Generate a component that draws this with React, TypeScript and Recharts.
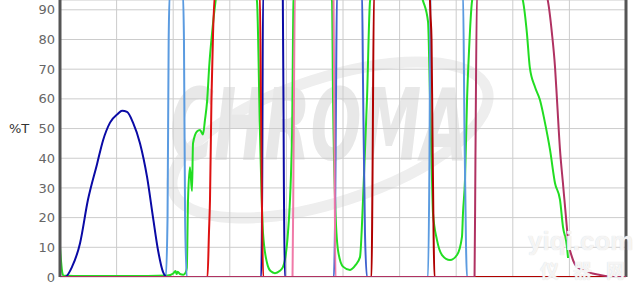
import React from "react";
import { LineChart, Line, XAxis, YAxis, CartesianGrid, ReferenceLine } from "recharts";

// wavelength (nm) / transmission (%T) pairs
const green: [number, number][] = [
  [300, 10], [301, 5], [302, 1.5], [303, 0.5], [320, 0.3], [360, 0.3], [395, 0.5], [400, 1.2],
  [402, 2], [403, 1], [404, 1.8], [406, 1], [409, 0.8], [411, 1.5], [412, 3], [413.1, 26],
  [414.8, 37], [416.6, 29], [417.5, 45], [421, 49], [423.7, 49.5], [426.3, 48], [428.1, 53],
  [429.9, 59], [432, 72], [434.3, 82], [436.5, 90], [439, 96], [472, 96], [474, 93],
  [476.7, 48], [479.3, 15], [482.9, 4.7], [486, 2], [489.9, 1.3], [494, 2], [497, 3.4],
  [501.4, 15], [505, 48], [506.3, 93], [508, 96], [538, 96], [540.3, 93], [541.2, 60],
  [543, 26], [545.6, 9], [550, 3.5], [556.2, 2.4], [561, 4], [565, 6.7], [567.7, 26],
  [571.2, 60], [573.9, 93], [576, 96], [618, 96], [620.7, 93], [625.1, 86], [626.9, 60],
  [628.6, 33], [629.5, 21.5], [633, 12.5], [637.5, 7.4], [644.5, 5.7], [650.7, 7.4],
  [655.1, 13.5], [656, 21.5], [657.8, 33], [659.6, 60], [661.3, 76], [664, 93], [666, 96],
  [706, 96], [709, 93], [712.5, 82], [715, 70.7], [719.6, 64], [724, 59.6], [728.4, 52],
  [732.9, 42.8], [737.3, 31.6], [741.7, 26], [744.3, 17], [747.9, 10], [748.8, 6.4],
];

const navy: [number, number][] = [
  [300, 0], [304.4, 0], [310.6, 3.4], [317.7, 11.4], [324.7, 26], [332.7, 38], [338, 46],
  [344.2, 52], [351.2, 55], [354.8, 56], [359.2, 55.6], [364.5, 52], [370.7, 45],
  [376.9, 33.7], [382.2, 20], [386.6, 9], [391, 1.7], [394.5, 0], [477.8, 0], [478.6, 30],
  [479.4, 96], [496.8, 96], [497.8, 30], [498.6, 0], [800, 0],
];

const lightBlue: [number, number][] = [
  [300, 0], [393.5, 0], [395, 20], [396, 80], [397, 96], [408.5, 96], [409.5, 80],
  [410.5, 20], [412, 0], [625.1, 0], [626.4, 40], [627.3, 96], [656, 96], [657.3, 50],
  [658.7, 10], [659.5, 0], [800, 0],
];

const royal: [number, number][] = [
  [300, 0], [542, 0], [543, 20], [543.8, 60], [544.7, 96], [566.8, 96], [567.7, 65],
  [569.4, 15], [571.2, 0], [800, 0],
];

const pink: [number, number][] = [
  [300, 0], [505.4, 0], [506.3, 40], [507.6, 96], [541.6, 96], [542.5, 40], [543.4, 0], [800, 0],
];

const red1: [number, number][] = [
  [300, 0], [430.3, 0], [431.6, 15], [432.5, 26], [433.8, 60], [435.2, 82], [436.9, 96],
  [476.5, 96], [477.5, 60], [478.5, 20], [479.5, 0], [800, 0],
];

const red2: [number, number][] = [
  [300, 0], [575.2, 0], [576, 30], [577.4, 96], [626.4, 96], [627.3, 88], [628.2, 80],
  [629, 50], [630, 15], [630.8, 0], [800, 0],
];

const maroon: [number, number][] = [
  [300, 0], [666.2, 0], [667, 40], [668.4, 96], [729, 96], [731, 93], [734.6, 82],
  [737.3, 70.7], [739, 60], [741.7, 42.8], [744.3, 31.6], [747, 20], [748.8, 12.5],
  [752.3, 6.7], [756.7, 3.4], [765.6, 1.7], [777, 0.7], [792, 0], [800, 0],
];

const xTicks = [300, 350, 400, 450, 500, 550, 600, 650, 700, 750, 800];
const yTicks = [0, 10, 20, 30, 40, 50, 60, 70, 80, 90];

const series = [
  { name: "green", pts: green, color: "#22dd22" },
  { name: "lightBlue", pts: lightBlue, color: "#5b9be0" },
  { name: "navy", pts: navy, color: "#0a0aa5" },
  { name: "royal", pts: royal, color: "#3f62cf" },
  { name: "pink", pts: pink, color: "#f07aa8" },
  { name: "red1", pts: red1, color: "#dd1111" },
  { name: "red2", pts: red2, color: "#b00000" },
  { name: "maroon", pts: maroon, color: "#b03262" },
];

const toRows = (pts: [number, number][]) => pts.map(([nm, t]) => ({ nm, t }));

const font = "DejaVu Sans";

export default function App() {
  return (
    <div style={{ position: "absolute", left: 0, top: 0, width: 641, height: 285, background: "#fff", overflow: "hidden" }}>
      {/* faint logo watermark behind the plot */}
      <svg width={641} height={285} style={{ position: "absolute", left: 0, top: 0 }}>
        <ellipse cx={330} cy={140} rx={165} ry={62} fill="none" stroke="#eeeeee" strokeWidth={11}
          transform="rotate(-18 330 140)" />
        <g transform="translate(170 160) scale(0.6 1)">
          <text x={0} y={0} fontFamily={font} fontWeight="bold" fontStyle="italic" fontSize={100}
            fill="#e8e8e8">CHROMA</text>
        </g>
      </svg>
      <div style={{ position: "absolute", left: 0, top: 0 }}>
        <LineChart width={641} height={285} margin={{ top: 0, right: 15, bottom: 8, left: 0 }}>
          <CartesianGrid stroke="#cccccc" strokeWidth={1} />
          <XAxis dataKey="nm" type="number" domain={[300, 800]} ticks={xTicks} hide allowDuplicatedCategory={false} />
          <YAxis
            type="number"
            domain={[0, 93.3]}
            ticks={yTicks}
            allowDataOverflow
            width={60}
            tickLine={false}
            tickSize={3}
            tickMargin={2}
            axisLine={{ stroke: "#555", strokeWidth: 3 }}
            tick={{ fill: "#666", fontSize: 13, fontFamily: font }}
            label={{ value: "%T", position: "insideLeft", offset: 9, dy: -10, fill: "#333", fontSize: 13, fontFamily: font }}
          />
          <ReferenceLine x={800} stroke="#555" strokeWidth={3} />
          {series.map((s) => (
            <Line
              key={s.name}
              data={toRows(s.pts)}
              dataKey="t"
              type="monotone"
              stroke={s.color}
              strokeWidth={2}
              dot={false}
              activeDot={false}
              isAnimationActive={false}
            />
          ))}
        </LineChart>
      </div>
      {/* site watermark over the lower right corner */}
      <div style={{ position: "absolute", left: 528, top: 226, fontFamily: "Liberation Sans", fontWeight: "bold", fontSize: 26,
        color: "rgba(255,255,255,0.8)", textShadow: "0 0 1px #d0d0d0", lineHeight: "30px", whiteSpace: "nowrap" }}>
        yiqi.com
      </div>
      <div style={{ position: "absolute", left: 540, top: 259, fontFamily: "Noto Sans CJK SC", fontWeight: "bold", fontSize: 19,
        letterSpacing: 14, color: "rgba(255,255,255,0.8)", textShadow: "0 0 1px #d0d0d0", lineHeight: "22px", whiteSpace: "nowrap" }}>
        仪器网
      </div>
    </div>
  );
}
